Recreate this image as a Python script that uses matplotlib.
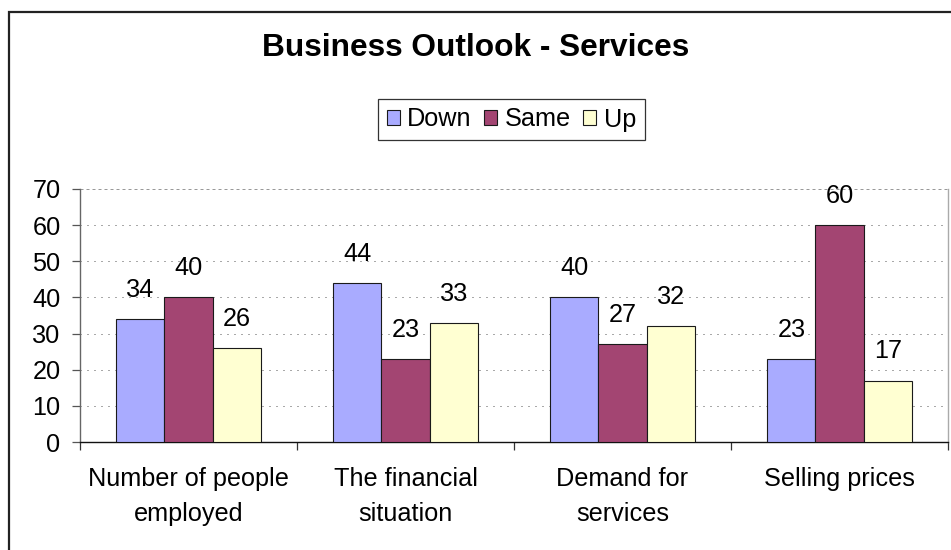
import matplotlib.pyplot as plt
import numpy as np
from matplotlib.patches import Rectangle

plt.rcParams['font.family'] = ['Liberation Sans', 'DejaVu Sans']

categories = ["Number of people\nemployed", "The financial\nsituation",
              "Demand for\nservices", "Selling prices"]
series = ["Down", "Same", "Up"]
down = [34, 44, 40, 23]
same = [40, 23, 27, 60]
up = [26, 33, 32, 17]
colors = ["#A9ABFF", "#A34572", "#FFFFD2"]

W, H = 951, 550
FS = 18.2
fig = plt.figure(figsize=(W / 100, H / 100), dpi=100)

# outer chart frame (only the left and top edges fall inside the image)
fig.patches.append(Rectangle((8.5 / W, -0.1), 1.2, 1.1 - 12 / H, transform=fig.transFigure,
                             fill=False, edgecolor="#222222", linewidth=1.6))

ax = fig.add_axes([80 / W, 1 - 442 / H, 868 / W, 253 / H])

x = np.arange(len(categories))
bw = 0.222
for i, (name, vals) in enumerate(zip(series, [down, same, up])):
    pos = x + (i - 1) * bw
    ax.bar(pos, vals, width=bw, color=colors[i], edgecolor="#1a1a1a",
           linewidth=0.8, label=name, zorder=3)
    for px, v in zip(pos, vals):
        ax.annotate(str(v), (px, v), xytext=(0, 21), textcoords="offset points",
                    ha="center", va="center", fontsize=FS, zorder=4)

ax.set_xlim(-0.5, 3.5)
ax.set_ylim(0, 70)
ax.set_yticks(range(0, 71, 10))
for yv in range(10, 71, 10):
    ax.axhline(yv, color="#555555" if yv < 70 else "#999999", linewidth=0.72,
               linestyle=(0, (1, 6)) if yv < 70 else (0, (3, 3)), zorder=1)

ax.set_xticks(np.arange(-0.5, 3.6, 1.0))
ax.set_xticklabels([])
ax.set_xticks(x, minor=True)
ax.set_xticklabels(categories, minor=True, fontsize=FS, linespacing=1.6)
ax.tick_params(axis="x", which="major", direction="out", length=6, width=0.9, color="#333333")
ax.tick_params(axis="x", which="minor", length=0, pad=18)
ax.tick_params(axis="y", direction="out", length=6, width=0.9, color="#555555",
               labelsize=FS, pad=8)

ax.spines["top"].set_visible(False)
ax.spines["right"].set_color("#aaaaaa")
ax.spines["left"].set_color("#666666")
ax.spines["bottom"].set_color("#111111")
for s in ax.spines.values():
    s.set_linewidth(1.0)

fig.text(476 / W, 1 - 48 / H, "Business Outlook - Services", ha="center", va="center",
         fontsize=22.8, fontweight="bold")

handles, labels = ax.get_legend_handles_labels()
leg = fig.legend(handles, labels, loc="center", bbox_to_anchor=(511.5 / W, 1 - 119.5 / H),
                 ncol=3, fontsize=FS, handlelength=0.5, handleheight=0.5,
                 handletextpad=0.3, columnspacing=0.5, borderpad=0.35,
                 fancybox=False, framealpha=1, edgecolor="#333333")
leg.get_frame().set_linewidth(0.9)

fig.savefig("out.png", dpi=100)
